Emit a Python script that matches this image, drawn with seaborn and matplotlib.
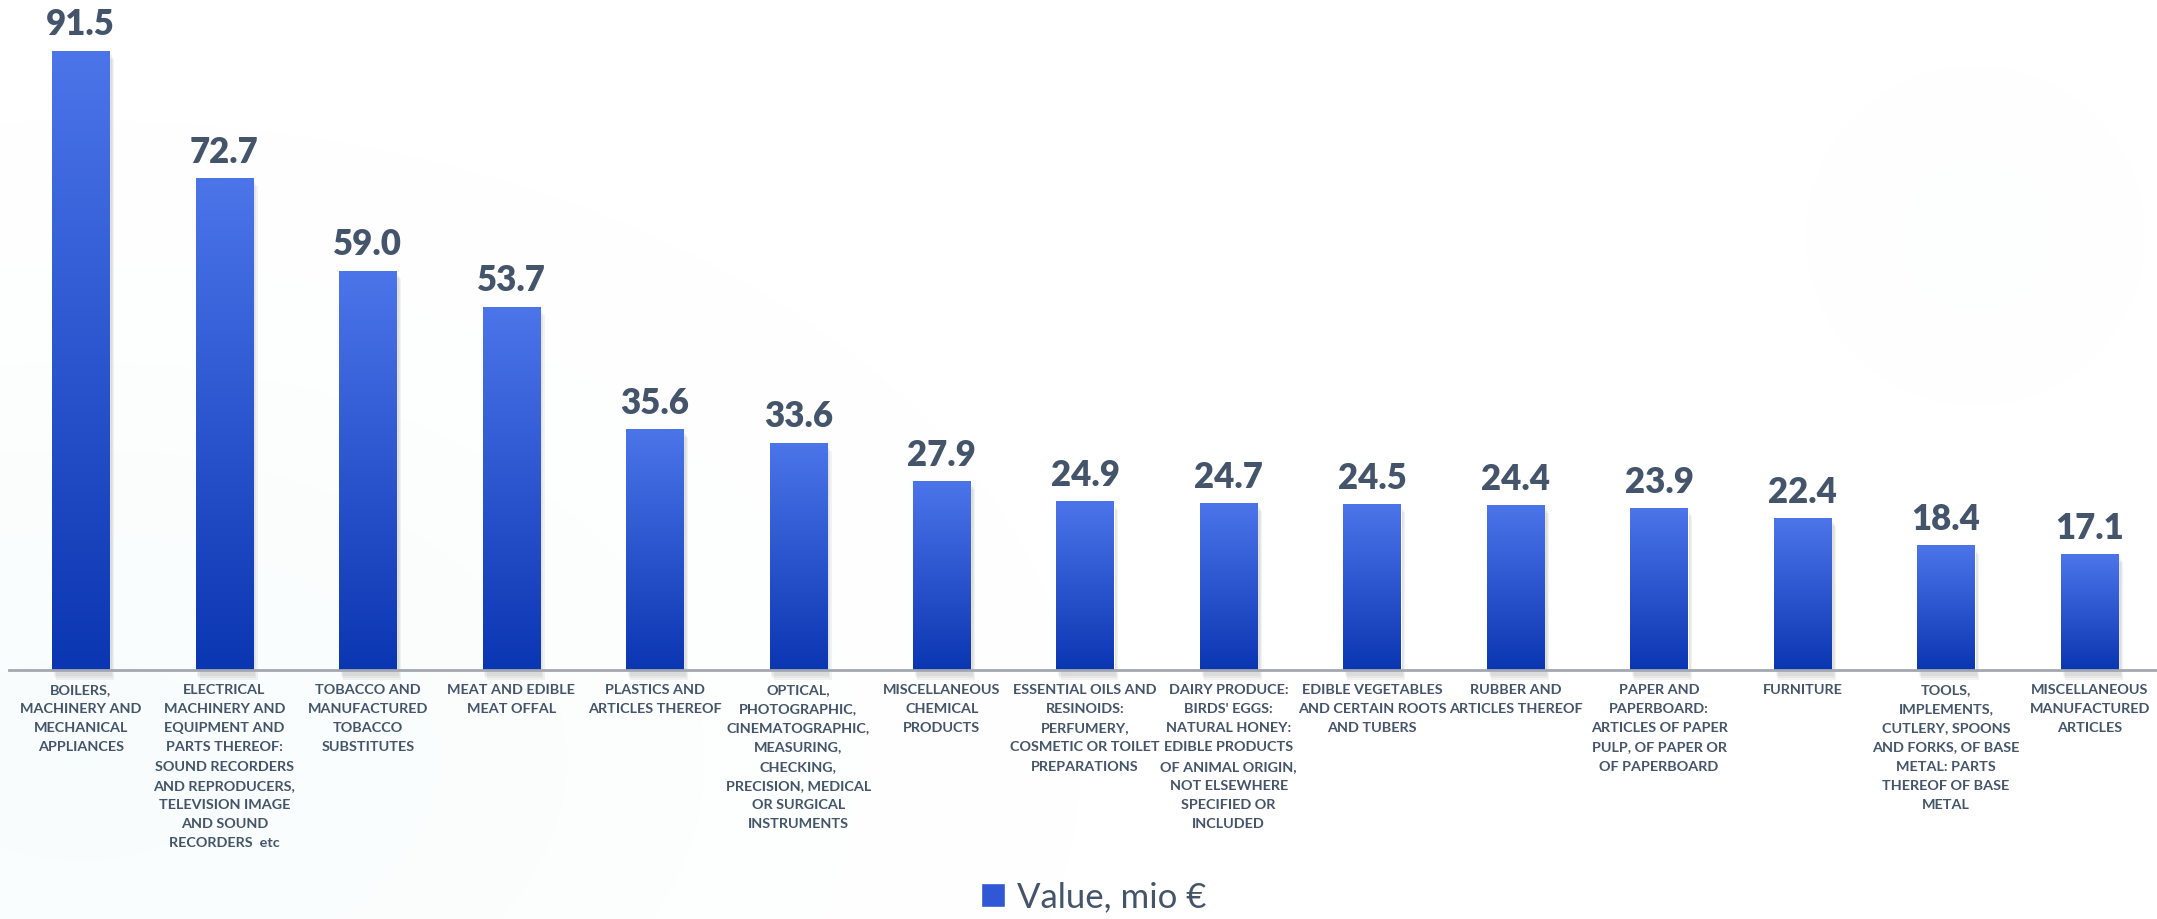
import numpy as np
import pandas as pd
import matplotlib
matplotlib.use("Agg")
import matplotlib.pyplot as plt
import seaborn as sns
from matplotlib.colors import LinearSegmentedColormap
from matplotlib.patches import Patch, Rectangle

# Data
categories = [
    "BOILERS,\nMACHINERY AND\nMECHANICAL\nAPPLIANCES",
    "ELECTRICAL\nMACHINERY AND\nEQUIPMENT AND\nPARTS THEREOF:\nSOUND RECORDERS\nAND REPRODUCERS,\nTELEVISION IMAGE\nAND SOUND\nRECORDERS  etc",
    "TOBACCO AND\nMANUFACTURED\nTOBACCO\nSUBSTITUTES",
    "MEAT AND EDIBLE\nMEAT OFFAL",
    "PLASTICS AND\nARTICLES THEREOF",
    "OPTICAL,\nPHOTOGRAPHIC,\nCINEMATOGRAPHIC,\nMEASURING,\nCHECKING,\nPRECISION, MEDICAL\nOR SURGICAL\nINSTRUMENTS",
    "MISCELLANEOUS\nCHEMICAL\nPRODUCTS",
    "ESSENTIAL OILS AND\nRESINOIDS:\nPERFUMERY,\nCOSMETIC OR TOILET\nPREPARATIONS",
    "DAIRY PRODUCE:\nBIRDS' EGGS:\nNATURAL HONEY:\nEDIBLE PRODUCTS\nOF ANIMAL ORIGIN,\nNOT ELSEWHERE\nSPECIFIED OR\nINCLUDED",
    "EDIBLE VEGETABLES\nAND CERTAIN ROOTS\nAND TUBERS",
    "RUBBER AND\nARTICLES THEREOF",
    "PAPER AND\nPAPERBOARD:\nARTICLES OF PAPER\nPULP, OF PAPER OR\nOF PAPERBOARD",
    "FURNITURE",
    "TOOLS,\nIMPLEMENTS,\nCUTLERY, SPOONS\nAND FORKS, OF BASE\nMETAL: PARTS\nTHEREOF OF BASE\nMETAL",
    "MISCELLANEOUS\nMANUFACTURED\nARTICLES",
]
values = [91.5, 72.7, 59.0, 53.7, 35.6, 33.6, 27.9, 24.9, 24.7, 24.5, 24.4, 23.9, 22.4, 18.4, 17.1]
series_name = "Value, mio €"

sns.set_theme(style="white")
plt.rcParams['font.family'] = ['Lato', 'DejaVu Sans']

TEXT = '#44546A'
bar_cmap = LinearSegmentedColormap.from_list('bars', ['#0b36b2', '#4c75ea'])

fig = plt.figure(figsize=(21.57, 9.19), dpi=100)

# faint background glow
bg = fig.add_axes([0, 0, 1, 1], zorder=-10)
H, W = 919, 2157
yy, xx = np.mgrid[0:H, 0:W]
glow1 = np.clip(1 - np.hypot((xx - 80) / 1000, (yy - 760) / 640), 0, 1) ** 1.3 * 0.14
glow2 = np.clip(1 - np.hypot(xx - 1975, yy - 235) / 170, 0, 1) ** 1.2 * 0.04
a = (glow1 + glow2)[..., None]
img = np.ones((H, W, 3)) * (1 - a) + np.array([0.80, 0.93, 0.93]) * a
bg.imshow(img, extent=[0, 1, 0, 1], aspect='auto')
bg.axis('off')

ax = fig.add_axes([0.0042, 0.271, 0.9958, 0.729])
ax.patch.set_alpha(0)

df = pd.DataFrame({'category': categories, 'value': values})
sns.barplot(data=df, x='category', y='value', color='#3a5fd8', width=0.40, ax=ax, zorder=3)

grad = np.linspace(0, 1, 256).reshape(-1, 1)
for p in ax.patches:
    x, w, h = p.get_x(), p.get_width(), p.get_height()
    # soft shadow
    for k in range(3):
        ax.add_patch(Rectangle((x + 0.012 + 0.008 * k, -0.9 - 0.3 * k), w + 0.004, h + 0.3,
                               color='#555555', alpha=0.07, lw=0, zorder=2, clip_on=False))
    im = ax.imshow(grad, extent=[x, x + w, 0, h], origin='lower', aspect='auto',
                   cmap=bar_cmap, zorder=3.5)
    im.set_clip_path(p)

for i, v in enumerate(values):
    ax.annotate(f"{v:.1f}", (i, v), xytext=(0, 11), textcoords='offset points',
                ha='center', va='baseline', fontsize=25, fontweight='heavy', color=TEXT)

ax.set_xlim(-0.5, 14.47)
ax.set_ylim(0, 99)
ax.set_yticks([])
ax.set_xlabel('')
ax.set_ylabel('')
for s in ['top', 'left', 'right']:
    ax.spines[s].set_visible(False)
ax.spines['bottom'].set_color('#a3a7b0')
ax.spines['bottom'].set_linewidth(2)
ax.spines['bottom'].set_zorder(4)
ax.tick_params(axis='x', length=0, pad=10)
for t in ax.get_xticklabels():
    t.set_fontsize(10.4)
    t.set_fontweight('bold')
    t.set_color(TEXT)
    t.set_linespacing(1.72)
    t.set_multialignment('center')

fig.legend(handles=[Patch(facecolor='#2f57d6', label=series_name)], loc='center',
           bbox_to_anchor=(0.507, 0.024), frameon=False, fontsize=25,
           handlelength=0.7, handleheight=0.7, handletextpad=0.35, labelcolor=TEXT)

fig.savefig('out.png', dpi=100)
